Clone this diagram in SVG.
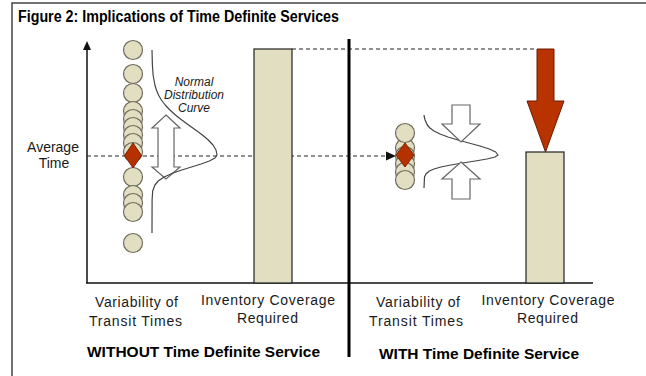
<svg xmlns="http://www.w3.org/2000/svg" width="646" height="376" viewBox="0 0 646 376">
  <style>
    text { font-family: "Liberation Sans", Arial, sans-serif; fill: #1a1a1a; }
    .title { font-size: 16px; font-weight: bold; fill: #000; }
    .lbl { font-size: 14px; text-anchor: middle; }
    .side { font-size: 15px; font-weight: bold; fill: #000; }
    .note { font-size: 12px; font-style: italic; text-anchor: middle; }
    .axis { stroke: #111; stroke-width: 1.5; fill: none; }
    .dash { stroke: #222; stroke-width: 1; stroke-dasharray: 4 3; fill: none; }
    .bar { fill: #e2dec1; stroke: #222; stroke-width: 1.2; }
    .dot { fill: #e2dec1; stroke: #6e6b5c; stroke-width: 1.2; }
    .gem { fill: #b53200; stroke: #7a2200; stroke-width: 1; }
    .hollow { fill: #fff; stroke: #666; stroke-width: 1.2; stroke-linejoin: miter; }
    .bell { fill: none; stroke: #444; stroke-width: 1.2; stroke-linejoin: round; }
    .push { fill: #b83300; stroke: #6a1c00; stroke-width: 1; }
  </style>

  <!-- frame -->
  <g id="frame">
    <rect x="0" y="0" width="646" height="376" fill="#fff"/>
    <path d="M12,376 V3 H646" fill="none" stroke="#444" stroke-width="1.5"/>
  </g>

  <text id="title" class="title" x="18" y="22" textLength="321" lengthAdjust="spacingAndGlyphs">Figure 2: Implications of Time Definite Services</text>

  <!-- axes and guide lines -->
  <g id="connectors">
    <line class="axis" x1="87" y1="48" x2="87" y2="283"/>
    <polygon points="87,41 83,50 91,50" fill="#111"/>
    <line class="axis" x1="86" y1="283" x2="593" y2="283"/>
    <line class="dash" x1="292" y1="49" x2="537" y2="49"/>
    <line class="dash" x1="87" y1="156" x2="388" y2="156"/>
    <polygon points="396,156 386,151.5 386,160.5" fill="#111"/>
  </g>

  <!-- left panel: spread of transit times -->
  <g id="spread-wide">
    <circle class="dot" cx="133" cy="50" r="9.5"/>
    <circle class="dot" cx="133" cy="74" r="9.5"/>
    <circle class="dot" cx="133" cy="93" r="9.5"/>
    <circle class="dot" cx="133" cy="111" r="9.5"/>
    <circle class="dot" cx="133" cy="119" r="9.5"/>
    <circle class="dot" cx="133" cy="127" r="9.5"/>
    <circle class="dot" cx="133" cy="135" r="9.5"/>
    <circle class="dot" cx="133" cy="143" r="9.5"/>
    <circle class="dot" cx="133" cy="152" r="9.5"/>
    <circle class="dot" cx="133" cy="177" r="9.5"/>
    <circle class="dot" cx="133" cy="195" r="9.5"/>
    <circle class="dot" cx="133" cy="203" r="9.5"/>
    <circle class="dot" cx="133" cy="212" r="9.5"/>
    <circle class="dot" cx="133" cy="243" r="9.5"/>
  </g>

  <g id="bell-wide">
    <polygon class="hollow" points="166,115 180,128 174,128 174,167 180,167 166,179 152,167 158,167 158,128 152,128"/>
    <path class="bell" d="M152,50 L152.4,65 L153.1,75 L154.9,85 L156.4,90 L158.5,95 L161.4,100 L165.2,105 L169.9,110 L175.4,115 L181.8,120 L188.6,125 L195.6,130 L202.4,135 L208.3,140 L213,145 L216,150 L217,155 L215,158 L209.4,161 L201.1,164 L191.4,167 L181.8,170 L173.1,173 L164.1,177 L158.2,181 L154.9,185 L152.7,191 L152.1,200 L152,233"/>
    <text class="note" x="194" y="86">Normal</text>
    <text class="note" x="194" y="99">Distribution</text>
    <text class="note" x="194" y="112">Curve</text>
  </g>

  <g id="gem-wide">
    <polygon class="gem" points="133,143 141.5,155.5 133,168 124.5,155.5"/>
  </g>

  <g id="bar-wide">
    <rect class="bar" x="254" y="49" width="38" height="234"/>
  </g>

  <!-- panel divider -->
  <g id="divider">
    <line x1="349" y1="39" x2="349" y2="357" stroke="#000" stroke-width="3"/>
  </g>

  <!-- right panel: narrow spread -->
  <g id="spread-narrow">
    <circle class="dot" cx="405" cy="148" r="9.5"/>
    <circle class="dot" cx="405" cy="156" r="9.5"/>
    <circle class="dot" cx="405" cy="164" r="9.5"/>
    <circle class="dot" cx="405" cy="172" r="9.5"/>
    <circle class="dot" cx="405" cy="180" r="9.5"/>
    <circle class="dot" cx="405" cy="133" r="9.5"/>
    <polygon class="gem" points="405,143 414,155 405,167 396,155"/>
  </g>

  <g id="bell-narrow">
    <path class="bell" d="M424,115 L424.3,117 L425.1,120 L427.3,125 L429.9,128 L434,131 L440,134 L448,137 L457.9,140 L468.9,143 L479.9,146 L489.3,149 L495.7,152 L498,155 L495,157 L486.9,159 L475.3,161 L462.5,163 L450.7,165 L441,167 L434,169 L429.4,171 L425.9,174 L424.5,177 L424,188"/>
    <polygon class="hollow" points="452,105 470,105 470,124 480,124 461,142 442,124 452,124"/>
    <polygon class="hollow" points="461,162 480,179 470,179 470,199 452,199 452,179 442,179"/>
  </g>

  <g id="bar-narrow">
    <rect class="bar" x="526" y="152" width="38" height="131"/>
    <polygon class="push" points="537,49 554,49 554,101 564,101 545.5,152 527,101 537,101"/>
  </g>

  <!-- labels -->
  <g id="labels">
    <text class="lbl" x="53" y="152">Average</text>
    <text class="lbl" x="54" y="168">Time</text>

    <text class="lbl" x="136.5" y="307" textLength="83">Variability of</text>
    <text class="lbl" x="135.5" y="326" textLength="93">Transit Times</text>
    <text class="lbl" x="268" y="305" textLength="134">Inventory Coverage</text>
    <text class="lbl" x="267.5" y="323" textLength="61">Required</text>

    <text class="lbl" x="418" y="307" textLength="84">Variability of</text>
    <text class="lbl" x="416" y="326" textLength="94">Transit Times</text>
    <text class="lbl" x="548" y="305" textLength="133">Inventory Coverage</text>
    <text class="lbl" x="547.5" y="323" textLength="61">Required</text>

    <text class="side" x="87" y="357" textLength="233" lengthAdjust="spacingAndGlyphs">WITHOUT Time Definite Service</text>
    <text class="side" x="379" y="359" textLength="200" lengthAdjust="spacingAndGlyphs">WITH Time Definite Service</text>
  </g>
</svg>
